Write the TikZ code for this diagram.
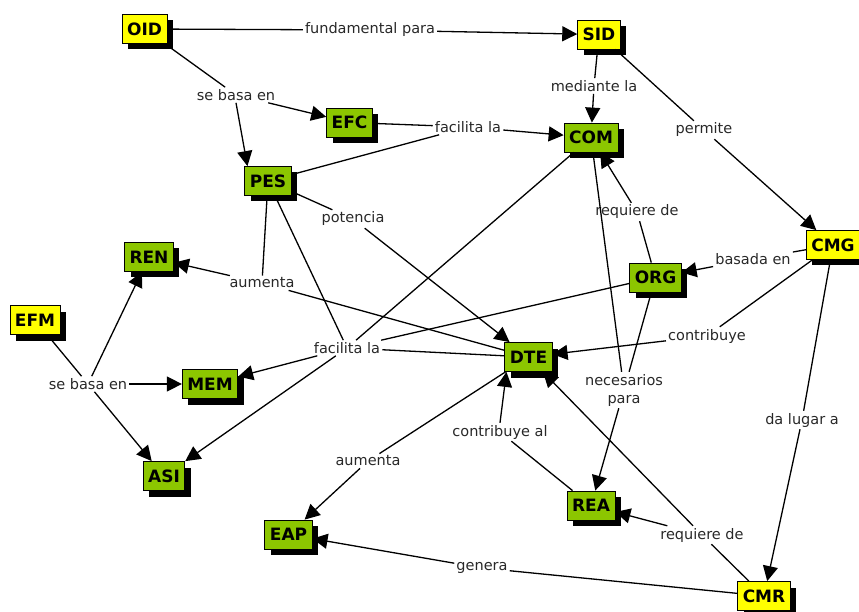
\documentclass[tikz,border=0pt]{standalone}
\usepackage{fontspec}
\setmainfont{DejaVu Sans}
\usepackage{tikz}
\usetikzlibrary{arrows.meta,shadows}
\usepackage{xcolor}
\definecolor{cmapyellow}{RGB}{255,255,0}
\definecolor{cmapgreen}{RGB}{140,198,0}
\definecolor{linkgrey}{RGB}{40,40,40}

\begin{document}
\begin{tikzpicture}[x=1pt, y=-1pt,
    concept/.style={rectangle, draw=black, line width=0.8pt, minimum height=29pt,
                    inner xsep=5pt, inner ysep=2pt, font=\fontsize{17}{19}\selectfont\bfseries,
                    drop shadow={shadow xshift=6pt, shadow yshift=-6pt, fill=black, opacity=1}},
    main/.style={concept, fill=cmapyellow},
    sub/.style={concept, fill=cmapgreen},
    link/.style={font=\fontsize{14.5}{18}\selectfont, text=linkgrey, inner sep=2pt, align=center},
    conn/.style={line width=1.3pt, black},
    arr/.style={conn, -{Triangle[length=15pt, width=15pt]}}
]
    \useasboundingbox (0,0) rectangle (859,612);

    % concepts
    \node[main] (OID) at (144.5,29)  {OID};
    \node[main] (SID) at (599,34.5)  {SID};
    \node[sub]  (EFC) at (349.5,122.5) {EFC};
    \node[sub]  (COM) at (591,137.5) {COM};
    \node[sub]  (PES) at (268,181)   {PES};
    \node[main] (CMG) at (833,245)   {CMG};
    \node[sub]  (REN) at (149,257)   {REN};
    \node[sub]  (ORG) at (655.5,277.5) {ORG};
    \node[main] (EFM) at (35,320)    {EFM};
    \node[sub]  (DTE) at (528.5,357) {DTE};
    \node[sub]  (MEM) at (210,384)   {MEM};
    \node[sub]  (ASI) at (164,476)   {ASI};
    \node[sub]  (REA) at (591,505.5) {REA};
    \node[sub]  (EAP) at (288.5,534.5) {EAP};
    \node[main] (CMR) at (764,596)   {CMR};

    % linking phrases
    \node[link] (fund)      at (370,30)  {fundamental para};
    \node[link] (basaA)     at (236,95)  {se basa en};
    \node[link] (mediante)  at (594,86)  {mediante la};
    \node[link] (permite)   at (704,130) {permite};
    \node[link] (facA)      at (468,127) {facilita la};
    \node[link] (potencia)  at (353,219) {potencia};
    \node[link] (aumA)      at (262,283) {aumenta};
    \node[link] (facB)      at (347,348) {facilita la};
    \node[link] (basaB)     at (88,384)  {se basa en};
    \node[link] (reqA)      at (637,212) {requiere de};
    \node[link] (basada)    at (753,259) {basada en};
    \node[link] (contrib)   at (707,336) {contribuye};
    \node[link] (necesarios) at (624,390) {necesarios\\para};
    \node[link] (lugar)     at (802,420) {da lugar a};
    \node[link] (reqB)      at (702,535) {requiere de};
    \node[link] (contribAl) at (500,432) {contribuye al};
    \node[link] (aumB)      at (368,461) {aumenta};
    \node[link] (genera)    at (482,568) {genera};

    % top part
    \draw[conn] (OID) -- (fund);   \draw[arr] (fund) -- (SID);
    \draw[conn] (OID) -- (basaA);  \draw[arr] (basaA) -- (EFC);
    \draw[arr] (basaA.south) -- ([xshift=3pt]PES.north west);
    \draw[conn] (SID) -- (mediante); \draw[arr] (mediante) -- (COM);
    \draw[conn] (SID) -- (permite);  \draw[arr] (permite) -- (CMG);
    \draw[conn] (EFC) -- (facA);   \draw[conn] (PES) -- (facA);
    \draw[arr] (facA) -- (COM);

    % around PES and DTE
    \draw[conn] (PES) -- (potencia); \draw[arr] (potencia) -- (DTE);
    \draw[conn] (PES) -- (aumA);   \draw[arr] (aumA) -- (REN);
    \draw[conn] (DTE) -- (aumA);
    \draw[conn] (PES) -- (facB);   \draw[conn] (COM) -- (facB);
    \draw[conn] (ORG) -- (facB);   \draw[conn] (DTE) -- (facB);
    \draw[arr] (facB) -- (MEM);    \draw[arr] (facB) -- (ASI);

    % left part
    \draw[conn] (EFM) -- (basaB);
    \draw[arr] (basaB) -- (REN);   \draw[arr] (basaB) -- (MEM);
    \draw[arr] (basaB) -- (ASI);

    % right part
    \draw[conn] (ORG) -- (reqA);   \draw[arr] (reqA) -- (COM);
    \draw[conn] (CMG) -- (basada); \draw[arr] (basada) -- (ORG);
    \draw[conn] (CMG) -- (contrib); \draw[arr] (contrib) -- (DTE);
    \draw[conn] (COM) -- (necesarios); \draw[conn] (ORG) -- (necesarios);
    \draw[arr] (necesarios) -- (REA);
    \draw[conn] (CMG) -- (lugar);  \draw[arr] (lugar) -- (CMR);

    % bottom part
    \draw[conn] (REA) -- (contribAl);
    \draw[arr] (contribAl.north) -- ([xshift=2pt]DTE.south west);
    \draw[conn] (DTE) -- (aumB);   \draw[arr] (aumB) -- (EAP);
    \draw[conn] (CMR) -- (genera); \draw[arr] (genera) -- (EAP);
    \draw[conn] (CMR) -- (reqB);   \draw[arr] (reqB) -- (REA);
    \draw[arr] (reqB) -- (DTE);
\end{tikzpicture}
\end{document}
